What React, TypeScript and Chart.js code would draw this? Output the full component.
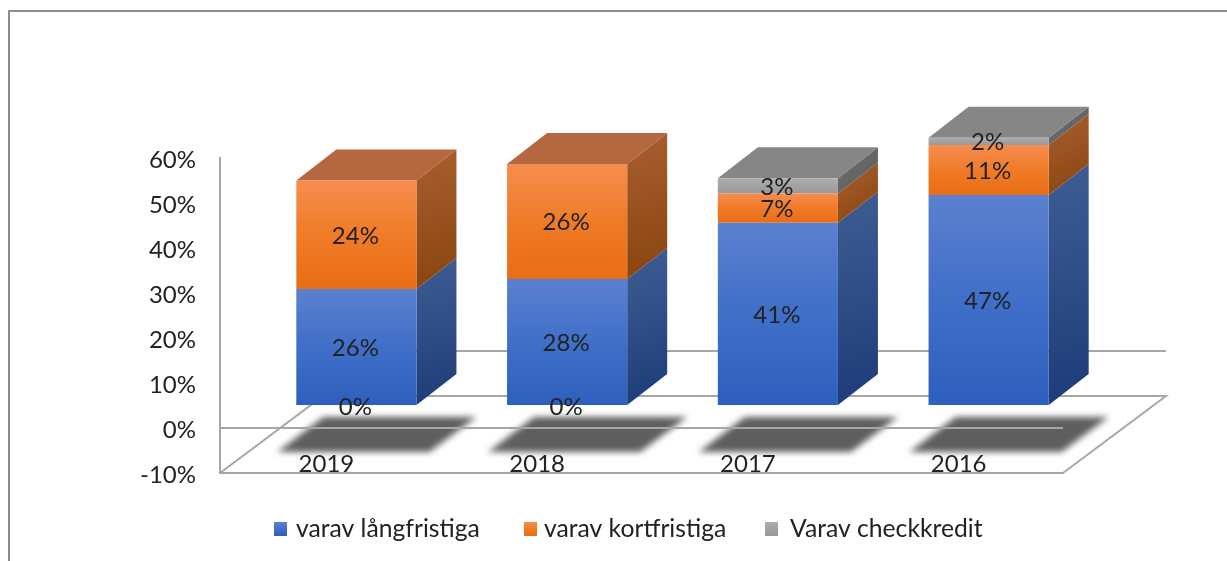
import React, { useEffect, useRef } from "react";
import { Chart, registerables } from "chart.js";

Chart.register(...registerables);

const categories = ["2019", "2018", "2017", "2016"];
const langfristiga = [26, 28.2, 40.7, 46.9];
const kortfristiga = [24.1, 25.6, 6.5, 11.1];
const checkkredit = [0, 0, 3.4, 1.6];
const seriesLabels = ["varav långfristiga", "varav kortfristiga", "Varav checkkredit"];
const allSeries = [langfristiga, kortfristiga, checkkredit];

const FONT = "Lato, Carlito, 'Noto Sans', sans-serif";
const TEXT = "#222222";
const LINE = "#a6a6a6";

const faces = [
  { stops: ["#5c80cf", "#3f6fc8", "#2d5fbd"], side: ["#3f5d94", "#1d3c78"], top: "#3f5d94" },
  { stops: ["#f68d50", "#f07b27", "#e96d14"], side: ["#a85f30", "#88440f"], top: "#b5673f" },
  { stops: ["#adadad", "#a2a2a2", "#999999"], side: ["#6e6e6e", "#5e5e5e"], top: "#868686" },
];

const BAR_SHIFT = { x: 31, y: -22 };
const BAR_DEPTH = { x: 40, y: -31 };
const FLOOR_DEPTH = { x: 103, y: -77 };
const LEGEND_X = [274, 524, 765];
const LEGEND_TEXT_X = [296, 544, 790];

function stackBelow(ds: number, i: number) {
  let s = 0;
  for (let k = 0; k < ds; k++) s += allSeries[k][i];
  return s;
}

const scene = {
  id: "scene",
  beforeDatasetsDraw(chart: any) {
    const { ctx, chartArea: a, scales } = chart;
    const y0 = scales.y.getPixelForValue(0);
    const yB = scales.y.getPixelForValue(-10);

    ctx.save();
    // frame
    ctx.strokeStyle = "#8c8c8c";
    ctx.lineWidth = 2;
    ctx.beginPath();
    ctx.moveTo(9, 561);
    ctx.lineTo(9, 11);
    ctx.lineTo(1227, 11);
    ctx.stroke();

    // floor
    ctx.strokeStyle = LINE;
    ctx.lineWidth = 2;
    ctx.beginPath();
    ctx.moveTo(a.left, yB);
    ctx.lineTo(a.left + FLOOR_DEPTH.x, yB + FLOOR_DEPTH.y);
    ctx.lineTo(a.right + FLOOR_DEPTH.x, yB + FLOOR_DEPTH.y);
    ctx.lineTo(a.right, yB);
    ctx.moveTo(a.left + FLOOR_DEPTH.x, y0 + FLOOR_DEPTH.y);
    ctx.lineTo(a.right + FLOOR_DEPTH.x, y0 + FLOOR_DEPTH.y);
    ctx.stroke();

    // floor shadows
    const meta0 = chart.getDatasetMeta(0);
    ctx.filter = "blur(3px)";
    ctx.fillStyle = "#5e5e5e";
    meta0.data.forEach((el: any) => {
      const l = el.x - el.width / 2;
      const r = el.x + el.width / 2;
      ctx.beginPath();
      ctx.moveTo(l + 12, y0 + 24);
      ctx.lineTo(r + 44, y0 + 24);
      ctx.lineTo(r + 91, y0 - 11);
      ctx.lineTo(l + 58, y0 - 11);
      ctx.closePath();
      ctx.fill();
    });
    ctx.filter = "none";
    ctx.restore();

    // everything of the columns sits forward on the floor
    ctx.save();
    ctx.translate(BAR_SHIFT.x, BAR_SHIFT.y);
    chart.data.datasets.forEach((_: any, ds: number) => {
      chart.getDatasetMeta(ds).data.forEach((el: any, i: number) => {
        if (!allSeries[ds][i]) return;
        const r = el.x + el.width / 2;
        const g = ctx.createLinearGradient(r, el.y + BAR_DEPTH.y, r + BAR_DEPTH.x, el.base);
        g.addColorStop(0, faces[ds].side[0]);
        g.addColorStop(1, faces[ds].side[1]);
        ctx.fillStyle = g;
        ctx.beginPath();
        ctx.moveTo(r, el.y);
        ctx.lineTo(r + BAR_DEPTH.x, el.y + BAR_DEPTH.y);
        ctx.lineTo(r + BAR_DEPTH.x, el.base + BAR_DEPTH.y);
        ctx.lineTo(r, el.base);
        ctx.closePath();
        ctx.fill();
      });
    });
    categories.forEach((_, i) => {
      let ds = allSeries.length - 1;
      while (ds > 0 && !allSeries[ds][i]) ds--;
      const el = chart.getDatasetMeta(ds).data[i];
      const l = el.x - el.width / 2;
      const r = el.x + el.width / 2;
      ctx.fillStyle = faces[ds].top;
      ctx.beginPath();
      ctx.moveTo(l, el.y);
      ctx.lineTo(r, el.y);
      ctx.lineTo(r + BAR_DEPTH.x, el.y + BAR_DEPTH.y);
      ctx.lineTo(l + BAR_DEPTH.x, el.y + BAR_DEPTH.y);
      ctx.closePath();
      ctx.fill();
    });
  },
  afterDatasetsDraw(chart: any) {
    const { ctx } = chart;
    // value labels, still in the shifted frame
    ctx.font = `24px ${FONT}`;
    ctx.fillStyle = TEXT;
    ctx.textAlign = "center";
    ctx.textBaseline = "middle";
    chart.data.datasets.forEach((_: any, ds: number) => {
      chart.getDatasetMeta(ds).data.forEach((el: any, i: number) => {
        const v = allSeries[ds][i];
        const yMid = v ? (el.y + el.base) / 2 : chart.scales.y.getPixelForValue(0);
        ctx.fillText(`${Math.round(v)}%`, el.x - 1, yMid + 1);
      });
    });
    ctx.restore();
  },
  afterDraw(chart: any) {
    const { ctx } = chart;
    ctx.save();
    ctx.font = `24.7px ${FONT}`;
    ctx.textBaseline = "middle";
    ctx.textAlign = "left";
    seriesLabels.forEach((label, k) => {
      const x = LEGEND_X[k];
      const g = ctx.createLinearGradient(0, 522, 0, 536);
      faces[k].stops.forEach((c, n) => g.addColorStop(n / 2, c));
      ctx.fillStyle = g;
      ctx.fillRect(x, 522, 13, 14);
      ctx.fillStyle = TEXT;
      ctx.fillText(label, LEGEND_TEXT_X[k], 529);
    });
    ctx.restore();
  },
};

function frontFill(ds: number) {
  return (c: any) => {
    const i = c.dataIndex;
    const s = c.chart.scales.y;
    if (i === undefined || !s) return faces[ds].stops[1];
    const b = stackBelow(ds, i);
    const y1 = s.getPixelForValue(b + allSeries[ds][i]);
    const y2 = s.getPixelForValue(b);
    if (!Number.isFinite(y1) || !Number.isFinite(y2)) return faces[ds].stops[1];
    const g = c.chart.ctx.createLinearGradient(0, y1, 0, y2);
    faces[ds].stops.forEach((col: string, n: number) => g.addColorStop(n / 2, col));
    return g;
  };
}

export default function App() {
  const ref = useRef<HTMLCanvasElement>(null);
  useEffect(() => {
    const chart = new Chart(ref.current as HTMLCanvasElement, {
      type: "bar",
      data: {
        labels: categories,
        datasets: allSeries.map((data, ds) => ({
          label: seriesLabels[ds],
          data,
          backgroundColor: frontFill(ds),
          borderWidth: 0,
          barPercentage: 0.57,
          categoryPercentage: 1,
          clip: false,
        })),
      },
      options: {
        responsive: false,
        animation: false,
        layout: { padding: { left: 0, top: 158, right: 164, bottom: 88 } },
        plugins: { legend: { display: false }, tooltip: { enabled: false }, title: { display: false } },
        scales: {
          x: {
            stacked: true,
            afterFit: (s: any) => { s.height = 0; },
            grid: { display: false },
            border: { display: true, color: LINE, width: 2, z: 1 },
            ticks: {
              color: TEXT,
              font: { family: FONT, size: 24 },
              mirror: true,
              padding: -6,
              maxRotation: 0,
              z: 2,
              labelOffset: 1,
            },
          },
          y: {
            stacked: true,
            min: -10,
            max: 60,
            afterFit: (s: any) => { s.width = 220; },
            grid: {
              z: 1,
              drawTicks: false,
              color: (c: any) => (c.tick && c.tick.value === 0 ? LINE : "rgba(0,0,0,0)"),
              lineWidth: 2,
            },
            border: { display: true, color: LINE, width: 2, z: 1 },
            ticks: {
              stepSize: 10,
              color: TEXT,
              font: { family: FONT, size: 24 },
              padding: 24,
              labelOffset: 2,
              callback: (v: any) => `${v}%`,
            },
          },
        },
      } as any,
      plugins: [scene],
    });
    return () => chart.destroy();
  }, []);
  return (
    <canvas
      ref={ref}
      width={1227}
      height={561}
      style={{ position: "fixed", left: 0, top: 0, display: "block", background: "#fff" }}
    />
  );
}
